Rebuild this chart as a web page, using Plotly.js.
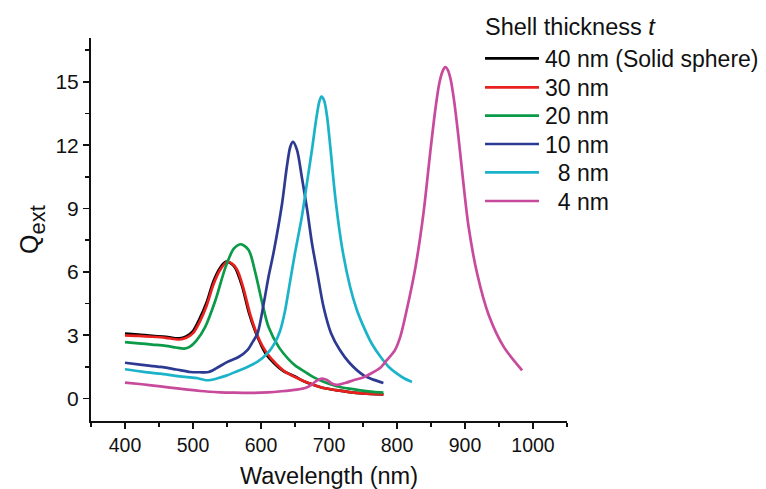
<!DOCTYPE html>
<html>
<head>
<meta charset="utf-8">
<script src="https://cdn.plot.ly/plotly-3.0.1.min.js"></script>
<style>html,body{margin:0;padding:0;background:#fff;}#chart{width:766px;height:489px;}</style>
</head>
<body>
<div id="chart"></div>
<script>
// ---- data ----
const seriesNames = ['40 nm (Solid sphere)', '30 nm', '20 nm', '10 nm', '\u20078 nm', '\u20074 nm'];
const legendTitle = 'Shell thickness <i>t</i>';

const wl40 = [400,420,440,460,480,490,500,510,520,530,540,548,555,562,572,582,592,600,607,620,633,650,663,680,692,710,730,750,780];
const q40  = [3.08,3.03,2.97,2.93,2.85,2.95,3.2,3.8,4.55,5.55,6.2,6.48,6.42,6.2,5.35,4.1,3.15,2.55,2.13,1.65,1.3,1.05,0.82,0.62,0.5,0.4,0.31,0.25,0.2];

const wl30 = [400,420,440,460,480,490,500,510,520,530,540,550,557,565,574,584,594,602,610,622,635,650,665,680,692,710,730,750,780];
const q30  = [3.0,2.97,2.93,2.88,2.8,2.88,3.1,3.65,4.4,5.4,6.1,6.47,6.4,6.1,5.25,4.0,3.05,2.5,2.1,1.65,1.28,1.02,0.8,0.62,0.5,0.4,0.31,0.25,0.2];

const wl20 = [400,420,440,460,475,487,495,505,518,533,548,560,571,582,592,602,611,626,641,651,663,677,692,710,730,746,765,780];
const q20  = [2.68,2.62,2.56,2.5,2.42,2.37,2.45,2.75,3.4,4.66,6.24,7.1,7.31,7.03,5.92,4.5,3.4,2.45,1.85,1.55,1.3,1.02,0.8,0.6,0.47,0.39,0.32,0.28];

const wl10 = [400,425,452,475,496,510,523,535,550,567,580,588,595,604,611,619,631,638,643,647,653,660,668,675,683,692,703,716,730,751,765,780];
const q10  = [1.7,1.6,1.5,1.38,1.26,1.25,1.26,1.45,1.73,1.97,2.3,2.7,3.1,4.5,5.76,7.0,9.24,10.98,11.92,12.16,11.77,10.5,8.92,7.35,5.92,4.34,3.1,2.3,1.7,1.1,0.9,0.74];

const wl8  = [400,425,452,480,504,521,535,550,565,580,595,609,620,628,635,642,650,660,668,675,681,686,689,693,697,702,709,719,731,741,751,763,776,788,800,811,822];
const q8   = [1.39,1.28,1.18,1.05,0.98,0.87,0.95,1.1,1.3,1.5,1.75,2.13,2.62,3.2,4.1,5.4,6.9,8.6,10.3,11.8,13.2,14.1,14.3,14.1,13.4,11.9,9.6,7.2,5.3,4.2,3.4,2.6,1.97,1.5,1.18,0.95,0.79];

const wl4  = [400,425,452,480,511,540,560,585,610,630,653,665,673,682,690,697,705,712,725,736,750,761,775,785,797,805,815,827,839,849,856,862,867,871,875,879,884,890,897,905,918,935,957,984];
const q4   = [0.76,0.68,0.58,0.47,0.36,0.3,0.28,0.27,0.3,0.35,0.43,0.5,0.63,0.85,0.95,0.88,0.7,0.65,0.75,0.87,1.0,1.18,1.45,1.82,2.3,2.95,4.3,6.2,8.8,11.7,13.6,14.9,15.5,15.7,15.55,15.1,14.1,12.5,10.4,8.2,5.9,3.95,2.45,1.34];

const xTickVals = [400,500,600,700,800,900,1000];
const yTickVals = [0,3,6,9,12,15];

// ---- styling ----
const colors = ['#000000','#e8211f','#0b9a48','#2d3a92','#1bb3c9','#c84a9c'];
const xs = [wl40, wl30, wl20, wl10, wl8, wl4];
const ys = [q40, q30, q20, q10, q8, q4];
const FONT = 'Liberation Sans, Arial, Helvetica, sans-serif';

const W = 766, H = 489;
const M = {l: 91, r: 199, t: 38, b: 68};
const pw = W - M.l - M.r, ph = H - M.t - M.b;
const px2paperX = p => (p - M.l) / pw;
const px2paperY = p => (H - M.b - p) / ph;

const traces = xs.map((x, i) => ({
  type: 'scatter', mode: 'lines', x: x, y: ys[i], name: seriesNames[i],
  line: {color: colors[i], width: 2.7, shape: 'spline', smoothing: 0.8},
  showlegend: false, hoverinfo: 'skip'
}));

// manual legend (lines + labels) to mimic the reference layout
const legendRowsY = [58.3, 87.3, 115.7, 144, 172.3, 201];
const shapes = seriesNames.map((n, i) => ({
  type: 'line', xref: 'paper', yref: 'paper',
  x0: px2paperX(485), x1: px2paperX(539),
  y0: px2paperY(legendRowsY[i]), y1: px2paperY(legendRowsY[i]),
  line: {color: colors[i], width: 2.7}
}));
const annotations = seriesNames.map((n, i) => ({
  xref: 'paper', yref: 'paper', x: px2paperX(543), y: px2paperY(legendRowsY[i] + 0.5),
  xanchor: 'left', yanchor: 'middle', text: n, showarrow: false,
  font: {family: FONT, size: 23, color: '#111'}
}));
annotations.push({
  xref: 'paper', yref: 'paper', x: px2paperX(483), y: px2paperY(27),
  xanchor: 'left', yanchor: 'middle', text: legendTitle, showarrow: false,
  font: {family: FONT, size: 23.5, color: '#111'}
});

const layout = {
  width: W, height: H,
  margin: M,
  paper_bgcolor: '#ffffff', plot_bgcolor: '#ffffff',
  showlegend: false,
  font: {family: FONT, color: '#111'},
  xaxis: {
    range: [350, 1050], tickvals: xTickVals, ticks: 'outside', ticklen: 6, tickwidth: 1.6,
    tickcolor: '#111', showline: true, linecolor: '#111', linewidth: 2, showgrid: false, zeroline: false,
    minor: {dtick: 50, tick0: 350, ticks: 'outside', ticklen: 4, tickwidth: 1.6, tickcolor: '#111', showgrid: false},
    tickfont: {family: FONT, size: 19.5, color: '#111'},
    title: {text: 'Wavelength (nm)', font: {family: FONT, size: 23.5, color: '#111'}, standoff: 14}
  },
  yaxis: {
    range: [-1.06, 17.08], tickvals: yTickVals, ticks: 'outside', ticklen: 6, tickwidth: 1.6,
    tickcolor: '#111', showline: true, linecolor: '#111', linewidth: 2, showgrid: false, zeroline: false,
    minor: {dtick: 1.5, tick0: 0, ticks: 'outside', ticklen: 4, tickwidth: 1.6, tickcolor: '#111', showgrid: false},
    tickfont: {family: FONT, size: 21, color: '#111'},
    title: {text: 'Q<span style="font-size:22px;baseline-shift:-7px">ext</span>', font: {family: FONT, size: 25, color: '#111'}, standoff: 10}
  },
  shapes: shapes,
  annotations: annotations
};

Plotly.newPlot('chart', traces, layout, {staticPlot: true, displayModeBar: false});
</script>
</body>
</html>
